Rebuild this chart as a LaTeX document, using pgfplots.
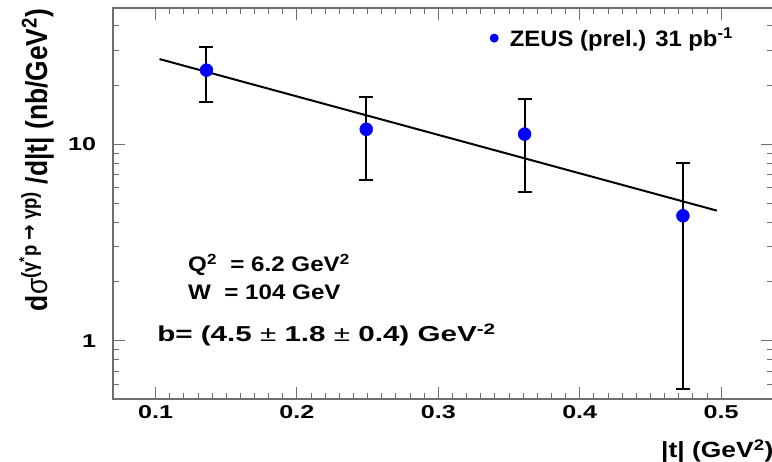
\documentclass[border=0pt]{standalone}
\usepackage{pgfplots}
\pgfplotsset{compat=1.18}
\usepackage{fontspec}
\setmainfont{Liberation Sans}
\newfontfamily\dejavu{DejaVu Sans}
\definecolor{zeusblue}{RGB}{0,0,255}
\definecolor{framegray}{RGB}{110,110,110}

% |t| (GeV^2), cross section (nb/GeV^2), upper and lower errors
\pgfplotstableread{
t      s      ep     em
0.136  23.8   7.4    7.5
0.249  11.9   5.4    5.3
0.361  11.25  5.65   5.55
0.473  4.32   3.68   3.75
}\zeusdata

\begin{document}
\begin{tikzpicture}[x=1pt,y=1pt]
\useasboundingbox (0,0) rectangle (772,462);
\begin{axis}[
  at={(113pt,63pt)}, anchor=south west,
  scale only axis, width=660pt, height=391pt,
  xmin=0.0699, xmax=0.5367,
  ymode=log, ymin=0.505, ymax=49.3,
  axis line style={framegray, line width=1.2pt},
  every tick/.style={framegray, line width=0.9pt},
  tick align=inside,
  major tick length=12pt, minor tick length=6pt,
  xtick={0.1,0.2,0.3,0.4,0.5},
  xticklabels={0.1,0.2,0.3,0.4,0.5},
  minor x tick num=9,
  ytick={1,10}, yticklabels={1,10},
  minor ytick={0.6,0.7,0.8,0.9,2,3,4,5,6,7,8,9,20,30,40},
  /pgf/number format/assume math mode=true,
  tick label style={font=\fontsize{18.6}{20}\selectfont\bfseries, xscale=1.35},
  xticklabel style={yshift=-3pt},
  yticklabel style={xshift=-9pt},
  legend style={draw=none, fill=none, at={(rel axis cs:0.5705,0.923)},
    anchor=west, inner sep=0pt, font=\fontsize{22.3}{24}\selectfont\bfseries,
    nodes={xscale=1.07}},
  legend image code/.code={\path[draw=none, fill=none] (0pt,-1pt) rectangle (18pt,1pt);
    \fill[zeusblue, draw=none] (4.5pt,0pt) circle (4.5pt);},
  clip=false,
]
\addplot[only marks, mark=*, mark size=6.5pt,
  mark options={fill=zeusblue, draw=zeusblue},
  error bars/.cd, y dir=both, y explicit,
  error bar style={black, line width=2pt},
  error mark options={black, rotate=90, mark size=7pt, line width=2pt}]
  table[x=t, y=s, y error plus=ep, y error minus=em] {\zeusdata};
\addlegendentry{ZEUS (prel.) 31 pb\textsuperscript{-1}}
% exponential fit, b = 4.5 GeV^-2
\addplot[black, line width=2pt, forget plot] coordinates {(0.1028,27.1) (0.497,4.59)};
\end{axis}

% axis titles
\node[rotate=90, yscale=1.15, anchor=base, inner sep=0pt,
  font=\fontsize{26.4}{28}\selectfont\bfseries] at (47,302)
  {d{\mdseries σ}\textsuperscript{(γ\textsuperscript{*}p {\dejavu →} γp)}\ /d|t| (nb/GeV\textsuperscript{2})};
\node[anchor=base west, inner sep=0pt, xscale=1.2,
  font=\fontsize{22}{24}\selectfont\bfseries] at (661,4) {|t| (GeV\textsuperscript{2})};

% kinematic range and slope
\node[anchor=base west, inner sep=0pt, xscale=1.15,
  font=\fontsize{21}{24}\selectfont\bfseries] at (188,190) {Q\textsuperscript{2}\ \ = 6.2 GeV\textsuperscript{2}};
\node[anchor=base west, inner sep=0pt, xscale=1.15,
  font=\fontsize{21}{24}\selectfont\bfseries] at (188,162.7) {W\ \ = 104 GeV};
\node[anchor=base west, inner sep=0pt, xscale=1.37,
  font=\fontsize{21.6}{24}\selectfont\bfseries] at (157,120.3)
  {b= (4.5 {\mdseries ±} 1.8 {\mdseries ±} 0.4) GeV\textsuperscript{-2}};
\end{tikzpicture}
\end{document}
